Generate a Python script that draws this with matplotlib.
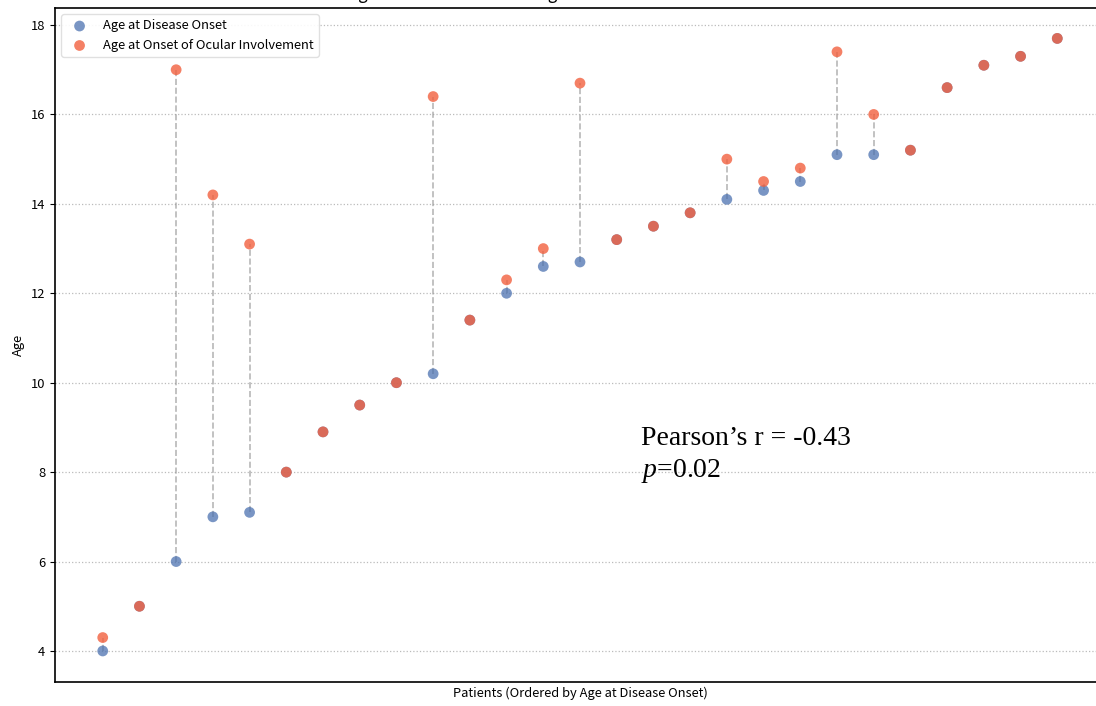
import matplotlib
matplotlib.use("Agg")
import matplotlib.pyplot as plt
import numpy as np

plt.rcParams['font.family'] = ['Noto Sans CJK SC', 'DejaVu Sans']
plt.rcParams['mathtext.fontset'] = 'custom'
plt.rcParams['mathtext.it'] = 'Liberation Serif:italic'
plt.rcParams['mathtext.rm'] = 'Liberation Serif'

# ---------------- data ----------------
onset_age = [4.0, 5.0, 6.0, 7.0, 7.1, 8.0, 8.9, 9.5, 10.0, 10.2, 11.4, 12.0, 12.6, 12.7,
             13.2, 13.5, 13.8, 14.1, 14.3, 14.5, 15.1, 15.1, 15.2, 16.6, 17.1, 17.3, 17.7]
ocular_age = [4.3, 5.0, 17.0, 14.2, 13.1, 8.0, 8.9, 9.5, 10.0, 16.4, 11.4, 12.3, 13.0, 16.7,
              13.2, 13.5, 13.8, 15.0, 14.5, 14.8, 17.4, 16.0, 15.2, 16.6, 17.1, 17.3, 17.7]
patients = np.arange(len(onset_age))

# ---------------- plot ----------------
fig = plt.figure(figsize=(10.96, 7.06), dpi=100)
ax = fig.add_axes([55 / 1096, (706 - 681.6) / 706, 1050 / 1096, (681.6 - 7.8) / 706])

for i in patients:
    if onset_age[i] != ocular_age[i]:
        ax.plot([i, i], [onset_age[i], ocular_age[i]], color="#999999",
                linestyle="--", linewidth=1.2, alpha=0.7, zorder=1)

ax.scatter(patients, onset_age, s=60, color="#4c72b0", alpha=0.75,
           label="Age at Disease Onset", zorder=2, edgecolors="none")
ax.scatter(patients, ocular_age, s=60, color="#f2603f", alpha=0.8,
           label="Age at Onset of Ocular Involvement", zorder=3, edgecolors="none")

ax.set_title("Age at Disease Onset vs. Age at Onset of Ocular Involvement", fontsize=12)
ax.set_xlabel("Patients (Ordered by Age at Disease Onset)", fontsize=9.3)
ax.set_ylabel("Age", fontsize=9.3)
ax.set_xticks([])
ax.set_yticks([4, 6, 8, 10, 12, 14, 16, 18])
ax.tick_params(axis="y", labelsize=9.3)
ax.yaxis.grid(True, linestyle=":", color="#bbbbbb", linewidth=0.9)
ax.set_axisbelow(True)
for sp in ax.spines.values():
    sp.set_linewidth(1.2)

ax.legend(loc="upper left", fontsize=9.3, frameon=True, framealpha=0.9, edgecolor="#dddddd")

ax.text(0.558, 0.351, "Pearson\u2019s r = -0.43", transform=ax.transAxes,
        family="Liberation Serif", fontsize=20, va="baseline")
ax.text(0.558, 0.304, r"$\mathit{p}$=0.02", transform=ax.transAxes,
        family="Liberation Serif", fontsize=20, va="baseline")

fig.savefig("out.png", dpi=100)
